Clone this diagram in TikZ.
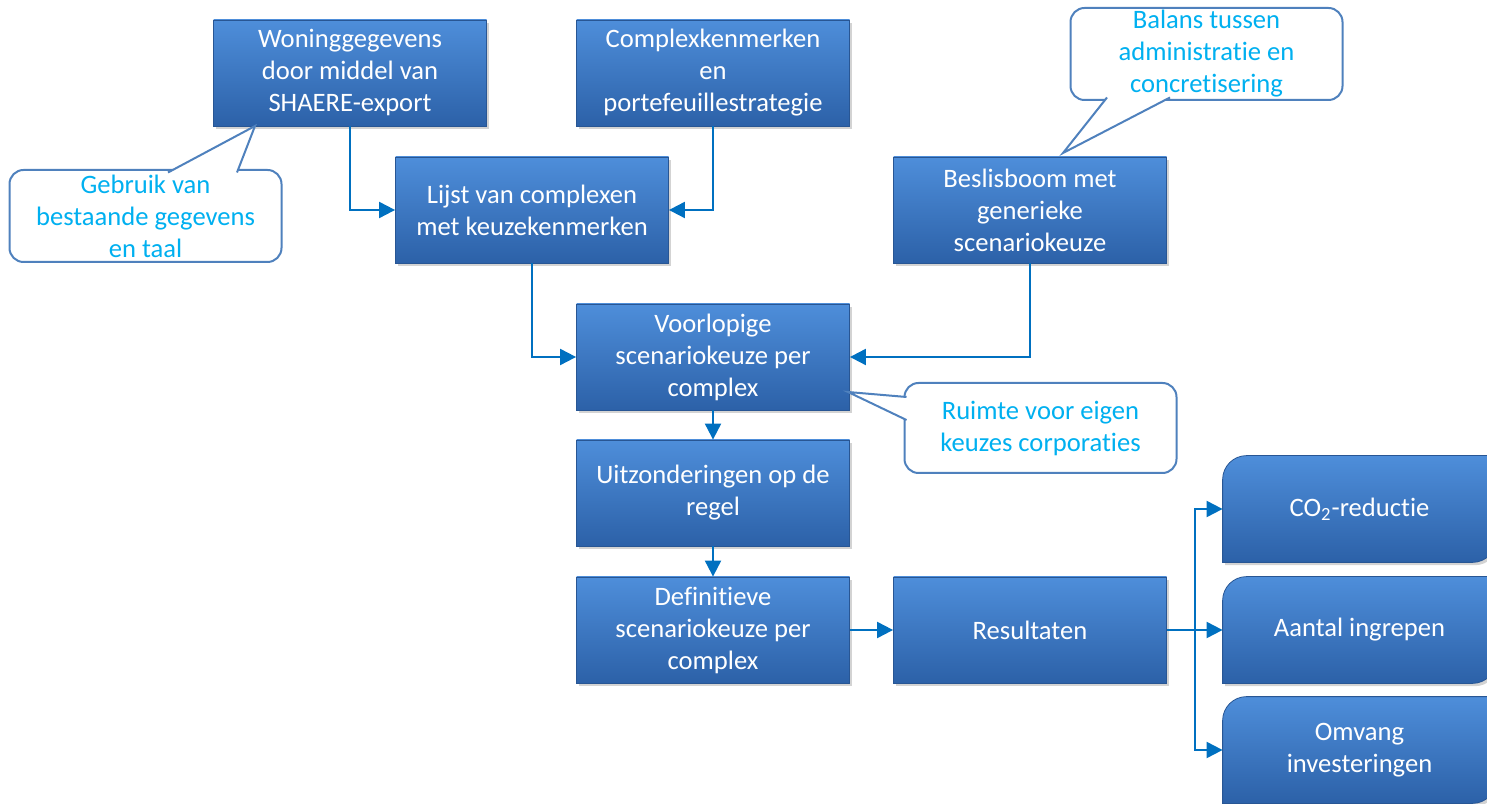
\documentclass[tikz,border=0pt]{standalone}
\usepackage{fontspec}
\setmainfont{Carlito}[RawFeature={-liga;-clig;-calt;-dlig}]
\usetikzlibrary{arrows.meta,shadows,backgrounds}

\definecolor{boxtop}{RGB}{78,142,218}
\definecolor{boxbot}{RGB}{44,97,168}
\definecolor{boxline}{RGB}{40,86,148}
\definecolor{linkblue}{RGB}{0,112,192}
\definecolor{noteline}{RGB}{79,129,189}
\definecolor{notetext}{RGB}{0,176,240}

\tikzset{
  boxfont/.style={font=\fontsize{13.3}{16}\selectfont},
  boxshade/.style={top color=boxtop, bottom color=boxbot, draw=boxline, line width=0.4pt,
    drop shadow={shadow xshift=1.2pt, shadow yshift=-1.4pt, opacity=0.35}},
  stepbox/.style={rectangle, boxshade, boxfont, text=white, align=center,
    minimum width=136.5pt, minimum height=53pt, inner sep=0pt},
  outbox/.style={rectangle, boxfont, text=white, align=center,
    minimum width=136.5pt, minimum height=53pt, inner sep=0pt},
  note/.style={rectangle, rounded corners=7pt, draw=noteline, line width=1pt, fill=white,
    boxfont, text=notetext, align=center, minimum width=136pt, minimum height=46pt, inner sep=0pt},
  pointer/.style={draw=noteline, line width=1pt, fill=white, line join=miter},
  link/.style={draw=linkblue, line width=1pt, -{Triangle[length=8pt,width=8pt]}},
}

\begin{document}
\begin{tikzpicture}[x=0.5pt, y=0.5pt]
  \useasboundingbox (0,0) rectangle (1487,803);

  % flow boxes
  \node[stepbox] (woning) at (350,730) {Woninggegevens\\door middel van\\SHAERE-export};
  \node[stepbox] (complex) at (713,730) {Complexkenmerken\\en\\portefeuillestrategie};
  \node[stepbox] (lijst) at (532,593) {Lijst van complexen\\met keuzekenmerken};
  \node[stepbox] (beslis) at (1030,593) {Beslisboom met\\generieke\\scenariokeuze};
  \node[stepbox] (voorl) at (713,446) {Voorlopige\\scenariokeuze per\\complex};
  \node[stepbox] (uitz) at (713,310) {Uitzonderingen op de\\regel};
  \node[stepbox] (defin) at (713,173) {Definitieve\\scenariokeuze per\\complex};
  \node[stepbox] (result) at (1030,173) {Resultaten};

  % results
  \node[outbox] (co2) at (1359.5,294) {CO\textsubscript{2}-reductie};
  \node[outbox] (aantal) at (1359.5,173) {Aantal ingrepen};
  \node[outbox] (omvang) at (1359.5,53) {Omvang\\investeringen};
  \begin{scope}[on background layer]
    \foreach \n in {co2,aantal,omvang}
      \shade[boxshade] (\n.south west) -- ([yshift=-12pt]\n.north west)
        arc[start angle=180, end angle=90, radius=12pt] -- (\n.north east)
        -- ([yshift=12pt]\n.south east) arc[start angle=0, end angle=-90, radius=12pt] -- cycle;
  \end{scope}

  % connectors
  \draw[link] (woning.south) |- (lijst.west);
  \draw[link] (complex.south) |- (lijst.east);
  \draw[link] (lijst.south) |- (voorl.west);
  \draw[link] (beslis.south) |- (voorl.east);
  \draw[link] (voorl) -- (uitz);
  \draw[link] (uitz) -- (defin);
  \draw[link] (defin) -- (result);
  \coordinate (split) at (1195,173);
  \draw[draw=linkblue, line width=1pt] (result.east) -- (split);
  \foreach \t in {co2,aantal,omvang}
    \draw[link] (split) |- (\t.west);

  % callouts
  \node[note] (gebruik) at (145.5,587) {Gebruik van\\bestaande gegevens\\en taal};
  \draw[pointer] (168,630.5) -- (255,677) -- (237,630.5);
  \node[note] (balans) at (1206.5,749) {Balans tussen\\administratie en\\concretisering};
  \draw[pointer] (1107,705.5) -- (1063,650) -- (1170,705.5);
  \node[note, minimum height=45pt] (ruimte) at (1040.5,375) {Ruimte voor eigen\\keuzes corporaties};
  \draw[pointer] (906.5,406) -- (848,411) -- (906.5,383);
\end{tikzpicture}
\end{document}
